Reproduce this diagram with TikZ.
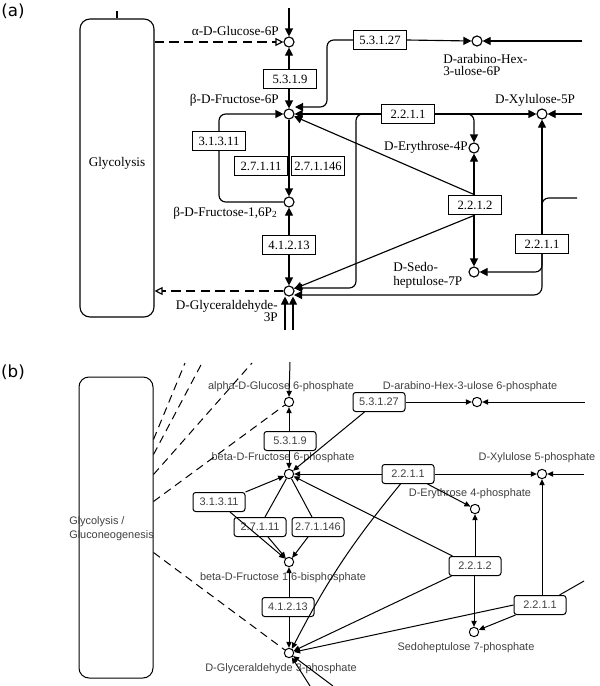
\documentclass[tikz,border=0pt]{standalone}
\usepackage{fontspec}
\setmainfont{Liberation Serif}
\setsansfont{Liberation Sans}
\newfontfamily\labfont{DejaVu Sans}
\usetikzlibrary{arrows.meta,calc}
\begin{document}
\begin{tikzpicture}[x=0.75pt,y=-0.75pt,
  lnA/.style={line width=0.85pt},
  arA/.style={lnA,-{Triangle[length=6pt,width=6pt]}},
  dsA/.style={lnA,dash pattern=on 7pt off 4pt,-{Triangle[open,length=6pt,width=6pt]}},
  metA/.style={circle,draw,lnA,minimum size=7.5pt,inner sep=0pt,fill=white},
  enzA/.style={draw,lnA,fill=white,minimum width=39.75pt,minimum height=14.25pt,inner sep=0pt,font=\fontsize{9.5}{10}\selectfont},
  txA/.style={inner sep=0pt,font=\fontsize{9.9}{9}\selectfont},
  lnB/.style={line width=0.75pt},
  arB/.style={lnB,-{Triangle[length=4.5pt,width=4pt]}},
  dsB/.style={lnB,dash pattern=on 6pt off 4pt},
  metB/.style={circle,draw,lnB,minimum size=7pt,inner sep=0pt},
  enzB/.style={draw,lnB,rounded corners=2pt,minimum width=39pt,minimum height=14.25pt,inner sep=0pt,text=black!75,font=\sffamily\fontsize{8.2}{9}\selectfont},
  txB/.style={inner sep=0pt,text=black!75,font=\sffamily\fontsize{8.2}{9}\selectfont},
  panlab/.style={inner sep=0pt,font=\labfont\fontsize{12.5}{14}\selectfont}
]
\useasboundingbox (0,0) rectangle (600,686);

% ================= panel (a) =================
\node[panlab] (labA) at (13,11) {(a)};
\node[draw,lnA,rounded corners=7.5pt,minimum width=55.5pt,minimum height=223.5pt] (gA) at (117,168) {};
\node[txA] (gAt) at (117,163) {Glycolysis};
\draw[lnA] (gA.north) -- ++(0,-7) coordinate (gAtop);

\node[metA] (ag6p) at (289,42) {};
\node[txA,anchor=east] (tg6p) at (279,31) {α-D-Glucose-6P};
\node[enzA] (a5319) at (290,79) {5.3.1.9};
\node[metA] (af6p) at (289,114) {};
\node[txA,anchor=east] (tf6p) at (279,100) {β-D-Fructose-6P};
\node[enzA] (a31311) at (219,141) {3.1.3.11};
\node[enzA] (a27111) at (261,166) {2.7.1.11};
\node[enzA] (a271146) at (318,166) {2.7.1.146};
\node[metA] (af16) at (289,202) {};
\node[txA,anchor=east] (tf16) at (277,213) {β-D-Fructose-1,6P\raisebox{-0.25ex}{\fontsize{7}{7}\selectfont 2}};
\node[enzA] (a41213) at (289,245) {4.1.2.13};
\node[metA] (agap) at (289,291) {};
\node[txA,anchor=north east,align=right] (tgap) at (278,300) {D-Glyceraldehyde-\\3P};
\node[enzA] (a5327) at (380,40) {5.3.1.27};
\node[metA] (aarab) at (477,41) {};
\node[txA,anchor=north west,align=left,font=\fontsize{9.9}{9}\selectfont] (tarab) at (443,54) {D-arabino-Hex-\\3-ulose-6P};
\node[enzA] (a2211) at (408,114) {2.2.1.1};
\node[metA] (axyl) at (542,114) {};
\node[txA] (txyl) at (535,100) {D-Xylulose-5P};
\node[metA] (aery) at (474,148) {};
\node[txA,anchor=east] (tery) at (468,147) {D-Erythrose-4P};
\node[enzA] (a2212) at (475,205) {2.2.1.2};
\node[metA] (ased) at (474,272) {};
\node[txA,anchor=north west,align=left,font=\fontsize{9.9}{10.5}\selectfont] (tsed) at (393,262) {D-Sedo-\\heptulose-7P};
\node[enzA] (a2211b) at (542,244) {2.2.1.1};

\coordinate (aTop) at (289,8);
\coordinate (aB1) at (285,330);
\coordinate (aB2) at (293,330);
\coordinate (aR1) at (582,41);
\coordinate (aR2) at (582,114);
\coordinate (aR3) at (577,198);

\draw[dsA] (gA.east |- ag6p) -- (ag6p.west);
\draw[dsA] (agap.west) -- (gA.east |- agap);
\draw[arA] (aTop) -- (ag6p.north);
\draw[arA] (a5319.north -| ag6p) -- (ag6p.south);
\draw[arA] (a5319.south -| af6p) -- (af6p.north);
\draw[arA,rounded corners=5pt] (a31311.north) |- (af6p.west);
\draw[lnA,rounded corners=5pt] (a31311.south) |- (af16.west);
\draw[arA] (af6p.south) -- (af16.north);
\draw[arA] (a41213.north) -- (af16.south);
\draw[arA] (a41213.south) -- (agap.north);
\draw[arA] (aB1) -- (aB1 |- agap.south);
\draw[arA] (aB2) -- (aB2 |- agap.south);
\draw[arA] (a5327.east) -- (aarab.west);
\draw[arA] (aR1) -- (aarab.east);
\draw[arA,rounded corners=5pt] (a5327.west) -| ($(af6p)+(38,-7)$) -- ($(af6p)+(6,-7)$);
\draw[arA] (a2211.west) -- (af6p.east);
\draw[arA] (a2211.east) -- (axyl.west);
\draw[arA] (aR2) -- (axyl.east);
\draw[arA,rounded corners=5pt] (a2211.east) -| (aery.north);
\draw[arA,rounded corners=5pt] (a2211.west) -| ($(agap)+(67,-3)$) -- ($(agap)+(5,-3)$);
\draw[arA] (a2212.north) -- (af6p.-24);
\draw[arA] (a2212.south) -- (agap.23);
\draw[arA] (aery |- a2212.north) -- (aery.south);
\draw[arA] (ased |- a2212.south) -- (ased.north);
\draw[arA] (a2211b.north) -- (axyl.south);
\draw[arA,rounded corners=6pt] (a2211b.south) |- ($(agap)+(5,4)$);
\draw[arA,rounded corners=5pt] (a2211b.south) |- (ased.east);
\draw[lnA,rounded corners=5pt] (aR3) -| ($(a2211b.north)+(0,-20)$);

% ================= panel (b) =================
\node[panlab] (labB) at (13,372) {(b)};
\node[draw,lnB,rounded corners=7.5pt,minimum width=55.5pt,minimum height=225.75pt] (gB) at (116,527.5) {};
\node[txB,anchor=west,align=left,font=\sffamily\fontsize{8.2}{10.5}\selectfont] (gBt) at (69,529) {Glycolysis /\\Gluconeogenesis};

\node[metB] (bg6p) at (289,402) {};
\node[txB] (tbg6p) at (281,387) {alpha-D-Glucose 6-phosphate};
\node[enzB] (b5319) at (290,441) {5.3.1.9};
\node[metB] (bf6p) at (289,474) {};
\node[txB] (tbf6p) at (283,458) {beta-D-Fructose 6-phosphate};
\node[enzB] (b31311) at (219,502) {3.1.3.11};
\node[enzB] (b27111) at (260,527) {2.7.1.11};
\node[enzB] (b271146) at (318,527) {2.7.1.146};
\node[metB] (bf16) at (289,562) {};
\node[txB] (tbf16) at (283,578) {beta-D-Fructose 1,6-bisphosphate};
\node[enzB] (b41213) at (288,607) {4.1.2.13};
\node[metB] (bgap) at (289,653) {};
\node[txB] (tbgap) at (281,669) {D-Glyceraldehyde 3-phosphate};
\node[enzB] (b5327) at (379,402) {5.3.1.27};
\node[metB] (barab) at (477,402) {};
\node[txB] (tbarab) at (470,387) {D-arabino-Hex-3-ulose 6-phosphate};
\node[enzB] (b2211) at (408,474) {2.2.1.1};
\node[metB] (bxyl) at (542,474) {};
\node[txB] (tbxyl) at (537,458) {D-Xylulose 5-phosphate};
\node[metB] (bery) at (475,509) {};
\node[txB] (tbery) at (470,494) {D-Erythrose 4-phosphate};
\node[enzB] (b2212) at (475,566) {2.2.1.2};
\node[metB] (bsed) at (474,632) {};
\node[txB] (tbsed) at (466,648) {Sedoheptulose 7-phosphate};
\node[enzB] (b2211b) at (540,605) {2.2.1.1};

\coordinate (bd1) at (185,363);
\coordinate (bd2) at (202,363);
\coordinate (bd3) at (252,363);
\coordinate (bTop) at (290,362);
\coordinate (bR1) at (585,402);
\coordinate (bR2) at (584,474);
\coordinate (bR3) at (584,581);
\coordinate (bB1) at (310,686);
\coordinate (bB2) at (333,686);

\draw[dsB] ($(gB.north east)+(0,63)$) -- (bd1);
\draw[dsB] ($(gB.north east)+(0,78)$) -- (bd2);
\draw[dsB] ($(gB.north east)+(0,98)$) -- (bd3);
\draw[dsB] ($(gB.north east)+(0,125)$) -- (bg6p.216);
\draw[dsB] ($(gB.north east)+(0,176)$) -- (bgap.144);

\draw[arB] (bTop) -- (bg6p.north);
\draw[arB] (b5319.north -| bg6p) -- (bg6p.south);
\draw[arB] (b5319.south -| bf6p) -- (bf6p.north);
\draw[arB] (b31311.north east) -- (bf6p.203);
\draw[arB] ($(b31311.south)+(11,0)$) -- (bf16.139);
\draw[lnB] (bf6p.241) -- ($(b27111.north)+(5,0)$);
\draw[lnB] (bf6p.-62) -- ($(b271146.north)+(-6,0)$);
\draw[arB] ($(b27111.south)+(8,0)$) -- (bf16.130);
\draw[arB] ($(b271146.south)+(-10,0)$) -- (bf16.53);
\draw[arB] (bf16 |- b41213.north) -- (bf16.south);
\draw[arB] (bgap |- b41213.south) -- (bgap.north);
\draw[arB] (bB1) -- (bgap.-57);
\draw[arB] (bB2) -- (bgap.-37);

\draw[arB] (b5327.east) -- (barab.west);
\draw[arB] (bR1) -- (barab.east);
\draw[arB] ($(b5327.south west)+(12,0)$) -- (bf6p.39);
\draw[arB] (b2211.west) -- (bf6p.east);
\draw[arB] (b2211.east) -- (bxyl.west);
\draw[arB] (bR2) -- (bxyl.east);
\draw[arB] ($(b2211.south east)+(-7,0)$) -- (bery.152);
\draw[arB] ($(b2211.south west)+(19,0)$) to[bend right=6] (bgap.56);
\draw[arB] ($(b2212.north west)+(4,0)$) -- (bf6p.-27);
\draw[arB] ($(b2212.south west)+(3,0)$) -- (bgap.25);
\draw[arB] (bery |- b2212.north) -- (bery.south);
\draw[arB] (bsed |- b2212.south) -- (bsed.north);
\draw[arB] (bxyl |- b2211b.north) -- (bxyl.south);
\draw[lnB] ($(b2211b.north east)+(-7,0)$) -- (bR3);
\draw[arB] (b2211b.west) -- (bgap.11);
\draw[arB] ($(b2211b.south west)+(2,0)$) -- (bsed.24);
\end{tikzpicture}
\end{document}
